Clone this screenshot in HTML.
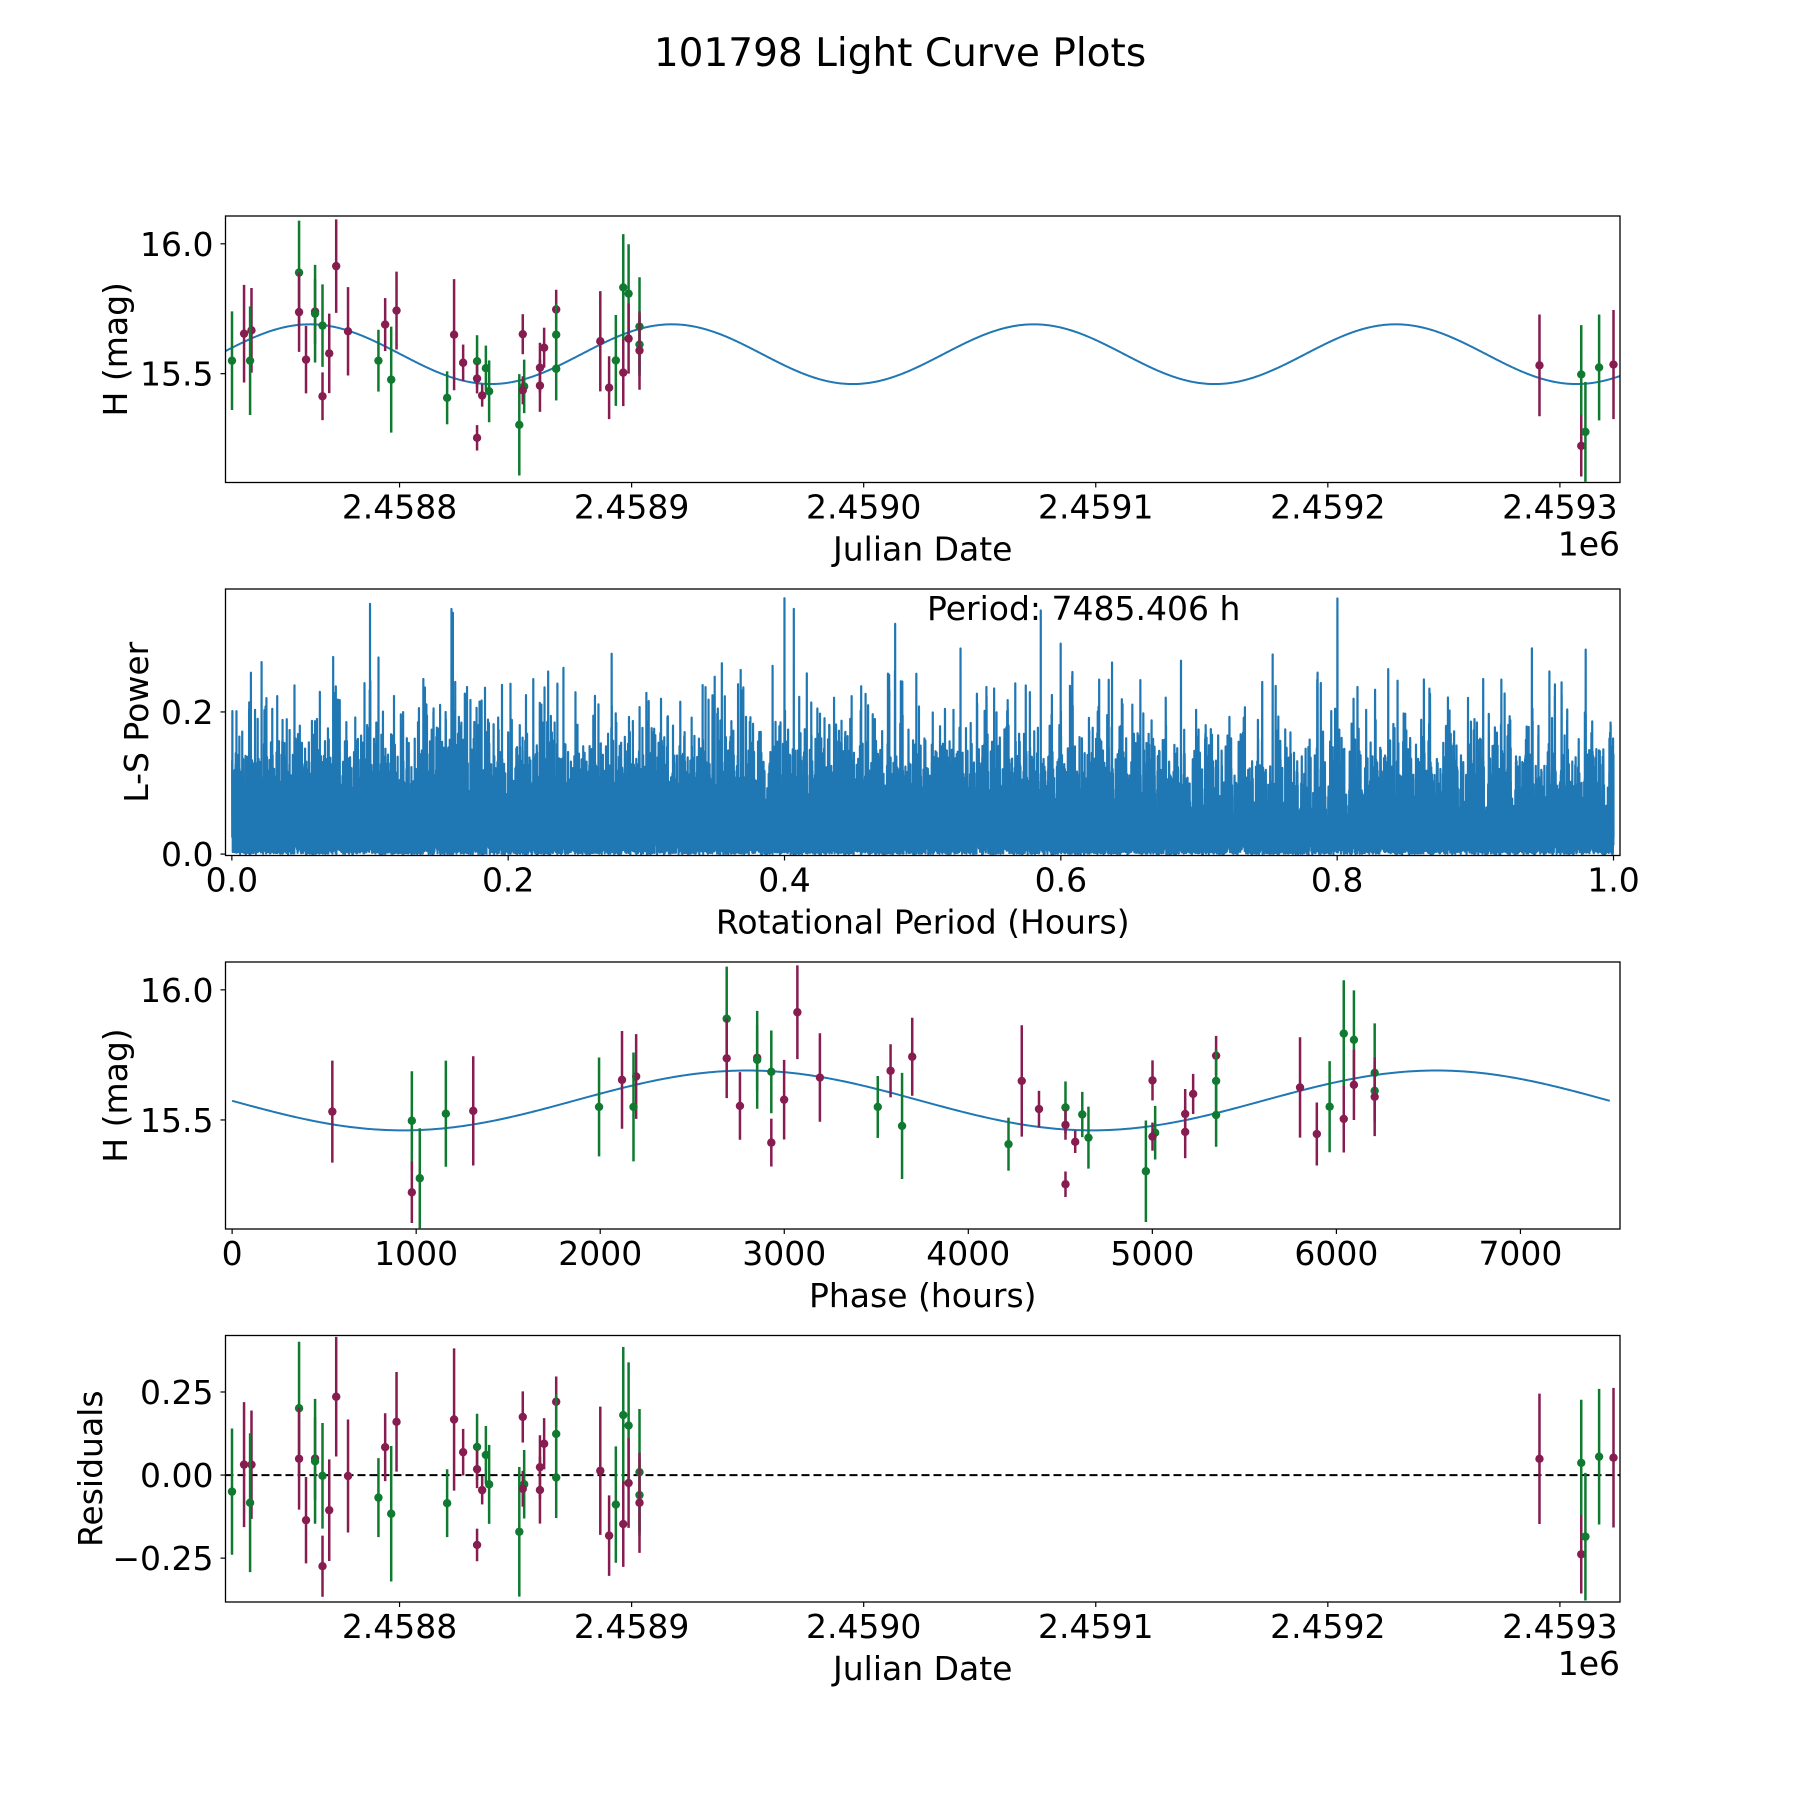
<!DOCTYPE html>
<html><head><meta charset="utf-8"><title>101798 Light Curve Plots</title>
<style>
html,body{margin:0;padding:0;background:#fff;}
svg{display:block;font-family:"DejaVu Sans","Liberation Sans",sans-serif;}
</style></head>
<body>
<svg id="fig" width="1800" height="1800" viewBox="0 0 1800 1800" xmlns="http://www.w3.org/2000/svg">
<rect x="0" y="0" width="1800" height="1800" fill="#fff"/>
<text x="900" y="66" text-anchor="middle" font-size="39">101798 Light Curve Plots</text>
</svg>
<script>
// ---- data (day offsets from JD 2458800) ----
const obsDay = [-72.2,-67.0,-63.8,-64.4,-43.3,-43.3,-40.3,-36.4,-36.4,-33.2,-33.2,-30.3,-27.3,-22.2,-9.1,-6.2,-3.6,-1.3,20.5,23.5,27.4,33.4,33.4,33.4,37.2,35.6,38.6,51.6,53.7,53.1,53.1,60.5,60.5,62.3,67.5,67.5,67.5,86.5,90.3,93.2,96.4,96.4,98.7,98.7,103.4,103.4,103.4,491.2,509.2,509.2,511.0,516.9,523.1];
const obsMag = [15.550,15.654,15.667,15.550,15.889,15.737,15.554,15.739,15.731,15.685,15.413,15.578,15.914,15.663,15.550,15.689,15.477,15.743,15.407,15.650,15.542,15.548,15.481,15.253,15.521,15.416,15.432,15.303,15.451,15.436,15.652,15.523,15.454,15.600,15.747,15.650,15.519,15.625,15.446,15.551,15.832,15.504,15.808,15.635,15.681,15.612,15.589,15.532,15.497,15.222,15.276,15.524,15.535];
const obsErr = [0.19,0.188,0.163,0.209,0.2,0.153,0.13,0.125,0.188,0.159,0.092,0.153,0.18,0.17,0.119,0.102,0.204,0.15,0.102,0.214,0.07,0.10,0.057,0.049,0.087,0.043,0.119,0.195,0.103,0.054,0.077,0.096,0.101,0.077,0.076,0.12,0.122,0.193,0.121,0.175,0.205,0.129,0.19,0.135,0.19,0.11,0.151,0.196,0.19,0.118,0.192,0.204,0.21];
const obsFilter = ["g","p","p","g","g","p","p","p","g","g","p","p","p","p","g","p","g","p","g","p","p","g","p","p","g","p","g","g","g","p","p","p","p","p","p","g","g","p","p","g","g","p","g","p","g","g","p","p","g","p","g","g","p"];
const period = 7485.406;
const epochDay = -155.27;
const modelMean = 15.575, modelAmp = 0.115, modelPeakPhase = 2800;
const topTicks = [0,100,200,300,400,500];
const topTickLabels = ["2.4588","2.4589","2.4590","2.4591","2.4592","2.4593"];
const magTicks = [16.0,15.5];
const magTickLabels = ["16.0","15.5"];
const lsXTicks = [0,0.2,0.4,0.6,0.8,1.0];
const lsXTickLabels = ["0.0","0.2","0.4","0.6","0.8","1.0"];
const lsYTicks = [0,0.2];
const lsYTickLabels = ["0.0","0.2"];
const phaseTicks = [0,1000,2000,3000,4000,5000,6000,7000];
const phaseTickLabels = ["0","1000","2000","3000","4000","5000","6000","7000"];
const resTicks = [0.25,0,-0.25];
const resTickLabels = ["0.25","0.00","\u22120.25"];

const NS = "http://www.w3.org/2000/svg";
const svg = document.getElementById("fig");
const COL = {g:"#0f7a30", p:"#861c50"};
function mk(tag, attrs, parent){
  const e = document.createElementNS(NS, tag);
  for (const k in attrs) e.setAttribute(k, attrs[k]);
  (parent||svg).appendChild(e);
  return e;
}
function phaseOf(d){ let p = ((d-epochDay)*24) % period; if (p<0) p+=period; return p; }
function modelAt(ph){ return modelMean + modelAmp*Math.cos(4*Math.PI*(ph-modelPeakPhase)/period); }

const L=225.5, R=1620;
const axesY = [[216,482.5],[589,855.5],[962,1229],[1335.5,1602]];
function scale(d0,d1,r0,r1){ return v => r0 + (v-d0)*(r1-r0)/(d1-d0); }

function makeAxes(i, name, xlim, ylim){
  const [T,B] = axesY[i];
  const g = mk("g",{});
  
  
  const cp = mk("clipPath",{id:"clip"+i}, g);
  mk("rect",{x:L,y:T,width:R-L,height:B-T}, cp);
  const plot = mk("g",{"clip-path":"url(#clip"+i+")"}, g);
  
  
  return {g, plot, T, B, sx: scale(xlim[0],xlim[1],L,R), sy: scale(ylim[0],ylim[1],B,T)};
}
function frame(ax){
  const r = mk("rect",{x:L,y:ax.T,width:R-L,height:ax.B-ax.T,fill:"none",stroke:"#000","stroke-width":1.3}, ax.g);
  
  
}
function xTicks(ax, vals, labels, name){
  vals.forEach((v,k)=>{
    const x = ax.sx(v);
    const t = mk("line",{x1:x,x2:x,y1:ax.B,y2:ax.B+5,stroke:"#000","stroke-width":1.2}, ax.g);
    
    
    const tx = mk("text",{x:x,y:ax.B+36,"text-anchor":"middle","font-size":33}, ax.g);
    tx.textContent = labels[k];
    
    
  });
}
function yTicks(ax, vals, labels, name){
  vals.forEach((v,k)=>{
    const y = ax.sy(v);
    const t = mk("line",{x1:L-5,x2:L,y1:y,y2:y,stroke:"#000","stroke-width":1.2}, ax.g);
    
    
    const tx = mk("text",{x:L-12,y:y+12,"text-anchor":"end","font-size":33}, ax.g);
    tx.textContent = labels[k];
    
    
  });
}
function xLabel(ax, text, name, off){
  const t = mk("text",{x:(L+R)/2,y:ax.B+(off||78),"text-anchor":"middle","font-size":33}, ax.g);
  t.textContent = text;
  
  
}
function yLabel(ax, text, name, cx){
  const cy=(ax.T+ax.B)/2;
  const t = mk("text",{x:cx,y:cy,"text-anchor":"middle","font-size":33,transform:"rotate(-90 "+cx+" "+cy+")",dy:"12"}, ax.g);
  t.textContent = text;
  
  
}
function offsetText(ax){
  const t = mk("text",{x:R,y:ax.B+73,"text-anchor":"end","font-size":33}, ax.g);
  t.textContent = "1e6";
  
  
}
function errPoint(ax, x, y, e, f){
  const px = ax.sx(x);
  const l = mk("line",{x1:px,x2:px,y1:ax.sy(y-e),y2:ax.sy(y+e),stroke:COL[f],"stroke-width":2.5}, ax.plot);
  
  
  const c = mk("circle",{cx:px,cy:ax.sy(y),r:4.2,fill:COL[f]}, ax.plot);
  
  
}
function linePath(ax, xs, ys, color, w, name){
  let d="";
  for(let k=0;k<xs.length;k++){ d += (k?"L":"M")+ax.sx(xs[k]).toFixed(2)+","+ax.sy(ys[k]).toFixed(2); }
  const p = mk("path",{d:d,fill:"none",stroke:color,"stroke-width":w,"stroke-linejoin":"round"}, ax.plot);
  
  
  return p;
}

// ---- panel 1: light curve vs JD ----
const dayLim = [-75.0, 525.9];
const magLim = [15.081, 16.107];
const ax1 = makeAxes(0, "light-curve-panel", dayLim, magLim);
{
  const xs=[], ys=[];
  for(let k=0;k<=1200;k++){ const d = dayLim[0]+(dayLim[1]-dayLim[0])*k/1200; xs.push(d); ys.push(modelAt(phaseOf(d))); }
  linePath(ax1, xs, ys, "#1f77b4", 2, "model-curve");
  obsDay.forEach((d,k)=>errPoint(ax1, d, obsMag[k], obsErr[k], obsFilter[k]));
}
frame(ax1); xTicks(ax1, topTicks, topTickLabels, "x"); yTicks(ax1, magTicks, magTickLabels, "y");
xLabel(ax1, "Julian Date", "x-axis-title"); yLabel(ax1, "H (mag)", "y-axis-title", 115); offsetText(ax1);

// ---- panel 2: Lomb-Scargle periodogram ----
const ax2 = makeAxes(1, "periodogram-panel", [-0.0046, 1.0047], [-0.002, 0.373]);
{
  const n = obsDay.length;
  const th = obsDay.map(d=>(d-epochDay)*24);
  let mean=0; obsMag.forEach(m=>mean+=m); mean/=n;
  const yc = obsMag.map(m=>m-mean);
  let yy=0; yc.forEach(v=>yy+=v*v);
  const xs=[], ys=[];
  const NP=22000;
  for(let k=0;k<NP;k++){
    const p = 0.0002 + (1.0-0.0002)*k/(NP-1);
    const w = 2*Math.PI/p;
    let s2=0,c2=0;
    for(let j=0;j<n;j++){ const a=2*w*th[j]; s2+=Math.sin(a); c2+=Math.cos(a); }
    const tau = Math.atan2(s2,c2)/(2*w);
    let yC=0,yS=0,CC=0,SS=0;
    for(let j=0;j<n;j++){ const a=w*(th[j]-tau); const c=Math.cos(a), s=Math.sin(a); yC+=yc[j]*c; yS+=yc[j]*s; CC+=c*c; SS+=s*s; }
    xs.push(p); ys.push((yC*yC/CC + yS*yS/SS)/yy);
  }
  linePath(ax2, xs, ys, "#1f77b4", 2.2, "power-spectrum");
}
frame(ax2); xTicks(ax2, lsXTicks, lsXTickLabels, "x"); yTicks(ax2, lsYTicks, lsYTickLabels, "y");
xLabel(ax2, "Rotational Period (Hours)", "x-axis-title"); yLabel(ax2, "L-S Power", "y-axis-title", 136);
{
  const t = mk("text",{x:927,y:620,"font-size":33}, ax2.g);
  t.textContent = "Period: 7485.406 h";
  
  
}

// ---- panel 3: phase-folded ----
const ax3 = makeAxes(2, "phase-panel", [-36, 7541], magLim);
{
  const xs=[], ys=[];
  for(let k=0;k<=600;k++){ const ph = period*k/600; xs.push(ph); ys.push(modelAt(ph)); }
  linePath(ax3, xs, ys, "#1f77b4", 2, "model-curve");
  obsDay.forEach((d,k)=>errPoint(ax3, phaseOf(d), obsMag[k], obsErr[k], obsFilter[k]));
}
frame(ax3); xTicks(ax3, phaseTicks, phaseTickLabels, "x"); yTicks(ax3, magTicks, magTickLabels, "y");
xLabel(ax3, "Phase (hours)", "x-axis-title"); yLabel(ax3, "H (mag)", "y-axis-title", 115);

// ---- panel 4: residuals ----
const ax4 = makeAxes(3, "residuals-panel", dayLim, [-0.382, 0.42]);
{
  const z = mk("line",{x1:L,x2:R,y1:ax4.sy(0),y2:ax4.sy(0),stroke:"#000","stroke-width":2,"stroke-dasharray":"8,4"}, ax4.plot);
  
  
  obsDay.forEach((d,k)=>errPoint(ax4, d, obsMag[k]-modelAt(phaseOf(d)), obsErr[k], obsFilter[k]));
}
frame(ax4); xTicks(ax4, topTicks, topTickLabels, "x"); yTicks(ax4, resTicks, resTickLabels, "y");
xLabel(ax4, "Julian Date", "x-axis-title"); yLabel(ax4, "Residuals", "y-axis-title", 90); offsetText(ax4);
</script>
</body></html>
